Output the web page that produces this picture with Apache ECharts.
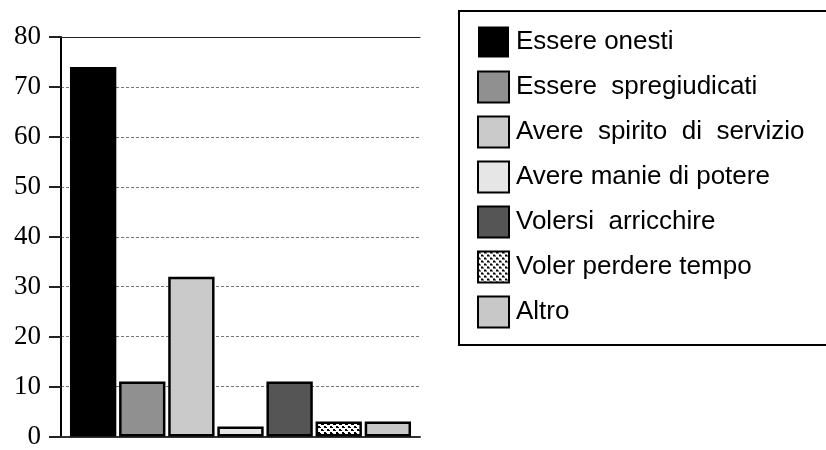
<!DOCTYPE html>
<html><head><meta charset="utf-8">
<script src="https://cdn.jsdelivr.net/npm/echarts@6/dist/echarts.min.js"></script>
<style>html,body{margin:0;padding:0;background:#fff}#c{width:826px;height:450px}</style>
</head><body><div id="c"></div>
<script>
const seriesNames = ["Essere onesti","Essere  spregiudicati","Avere  spirito  di  servizio","Avere manie di potere","Volersi  arricchire","Voler perdere tempo","Altro"];
const seriesValues = [74, 11, 32, 2, 11, 3, 3];
const yTicks = [0,10,20,30,40,50,60,70,80];

const pc = document.createElement('canvas');
pc.width = 6; pc.height = 6;
const g = pc.getContext('2d');
g.fillStyle = '#fff'; g.fillRect(0,0,6,6);
g.fillStyle = '#000';
g.fillRect(0,0,2,2); g.fillRect(3,3,2,2);
g.fillRect(2,1,1,1); g.fillRect(5,4,1,1);

const fills = ['#000000','#909090','#cacaca','#e6e6e6','#555555',{image: pc, repeat: 'repeat'},'#c8c8c8'];

const chart = echarts.init(document.getElementById('c'), null, {renderer:'canvas'});
chart.setOption({
  animation:false,
  backgroundColor:'#fff',
  grid:{left:61, top:37, width:359, height:405},
  legend:{
    orient:'vertical', left:459, top:11,
    data: seriesNames,
    itemWidth:31, itemHeight:31, itemGap:11,
    borderColor:'#000', borderWidth:2,
    padding:[14,30,16,18],
    icon:'rect',
    textStyle:{fontFamily:'Liberation Sans', fontSize:26, lineHeight:30, color:'#000', padding:[4,0,0,2]}
  },
  xAxis:[{
    type:'category', data:[''],
    axisLine:{show:true, lineStyle:{color:'#333', width:2}},
    axisTick:{show:false}, axisLabel:{show:false}, splitLine:{show:false}
  },{
    type:'category', data:[''], position:'top',
    axisLine:{show:true, lineStyle:{color:'#222', width:1}},
    axisTick:{show:false}, axisLabel:{show:false}
  }],
  yAxis:{
    type:'value', min:yTicks[0], max:yTicks[yTicks.length-1], interval:10,
    axisLine:{show:true, lineStyle:{color:'#000', width:2}},
    axisTick:{show:true, length:12, lineStyle:{color:'#222', width:2}},
    axisLabel:{fontFamily:'Liberation Serif', fontSize:27, color:'#000', margin:20},
    splitLine:{show:true, lineStyle:{color:'#777', type:[3,2], width:1}}
  },
  series: seriesNames.map((n,i)=>({
    name:n, type:'bar', data:[seriesValues[i]],
    barCategoryGap:'5%', barGap:'6%',
    itemStyle:{color:fills[i], borderColor:'#000', borderWidth: i===0?0:2.5}
  }))
});
</script></body></html>
